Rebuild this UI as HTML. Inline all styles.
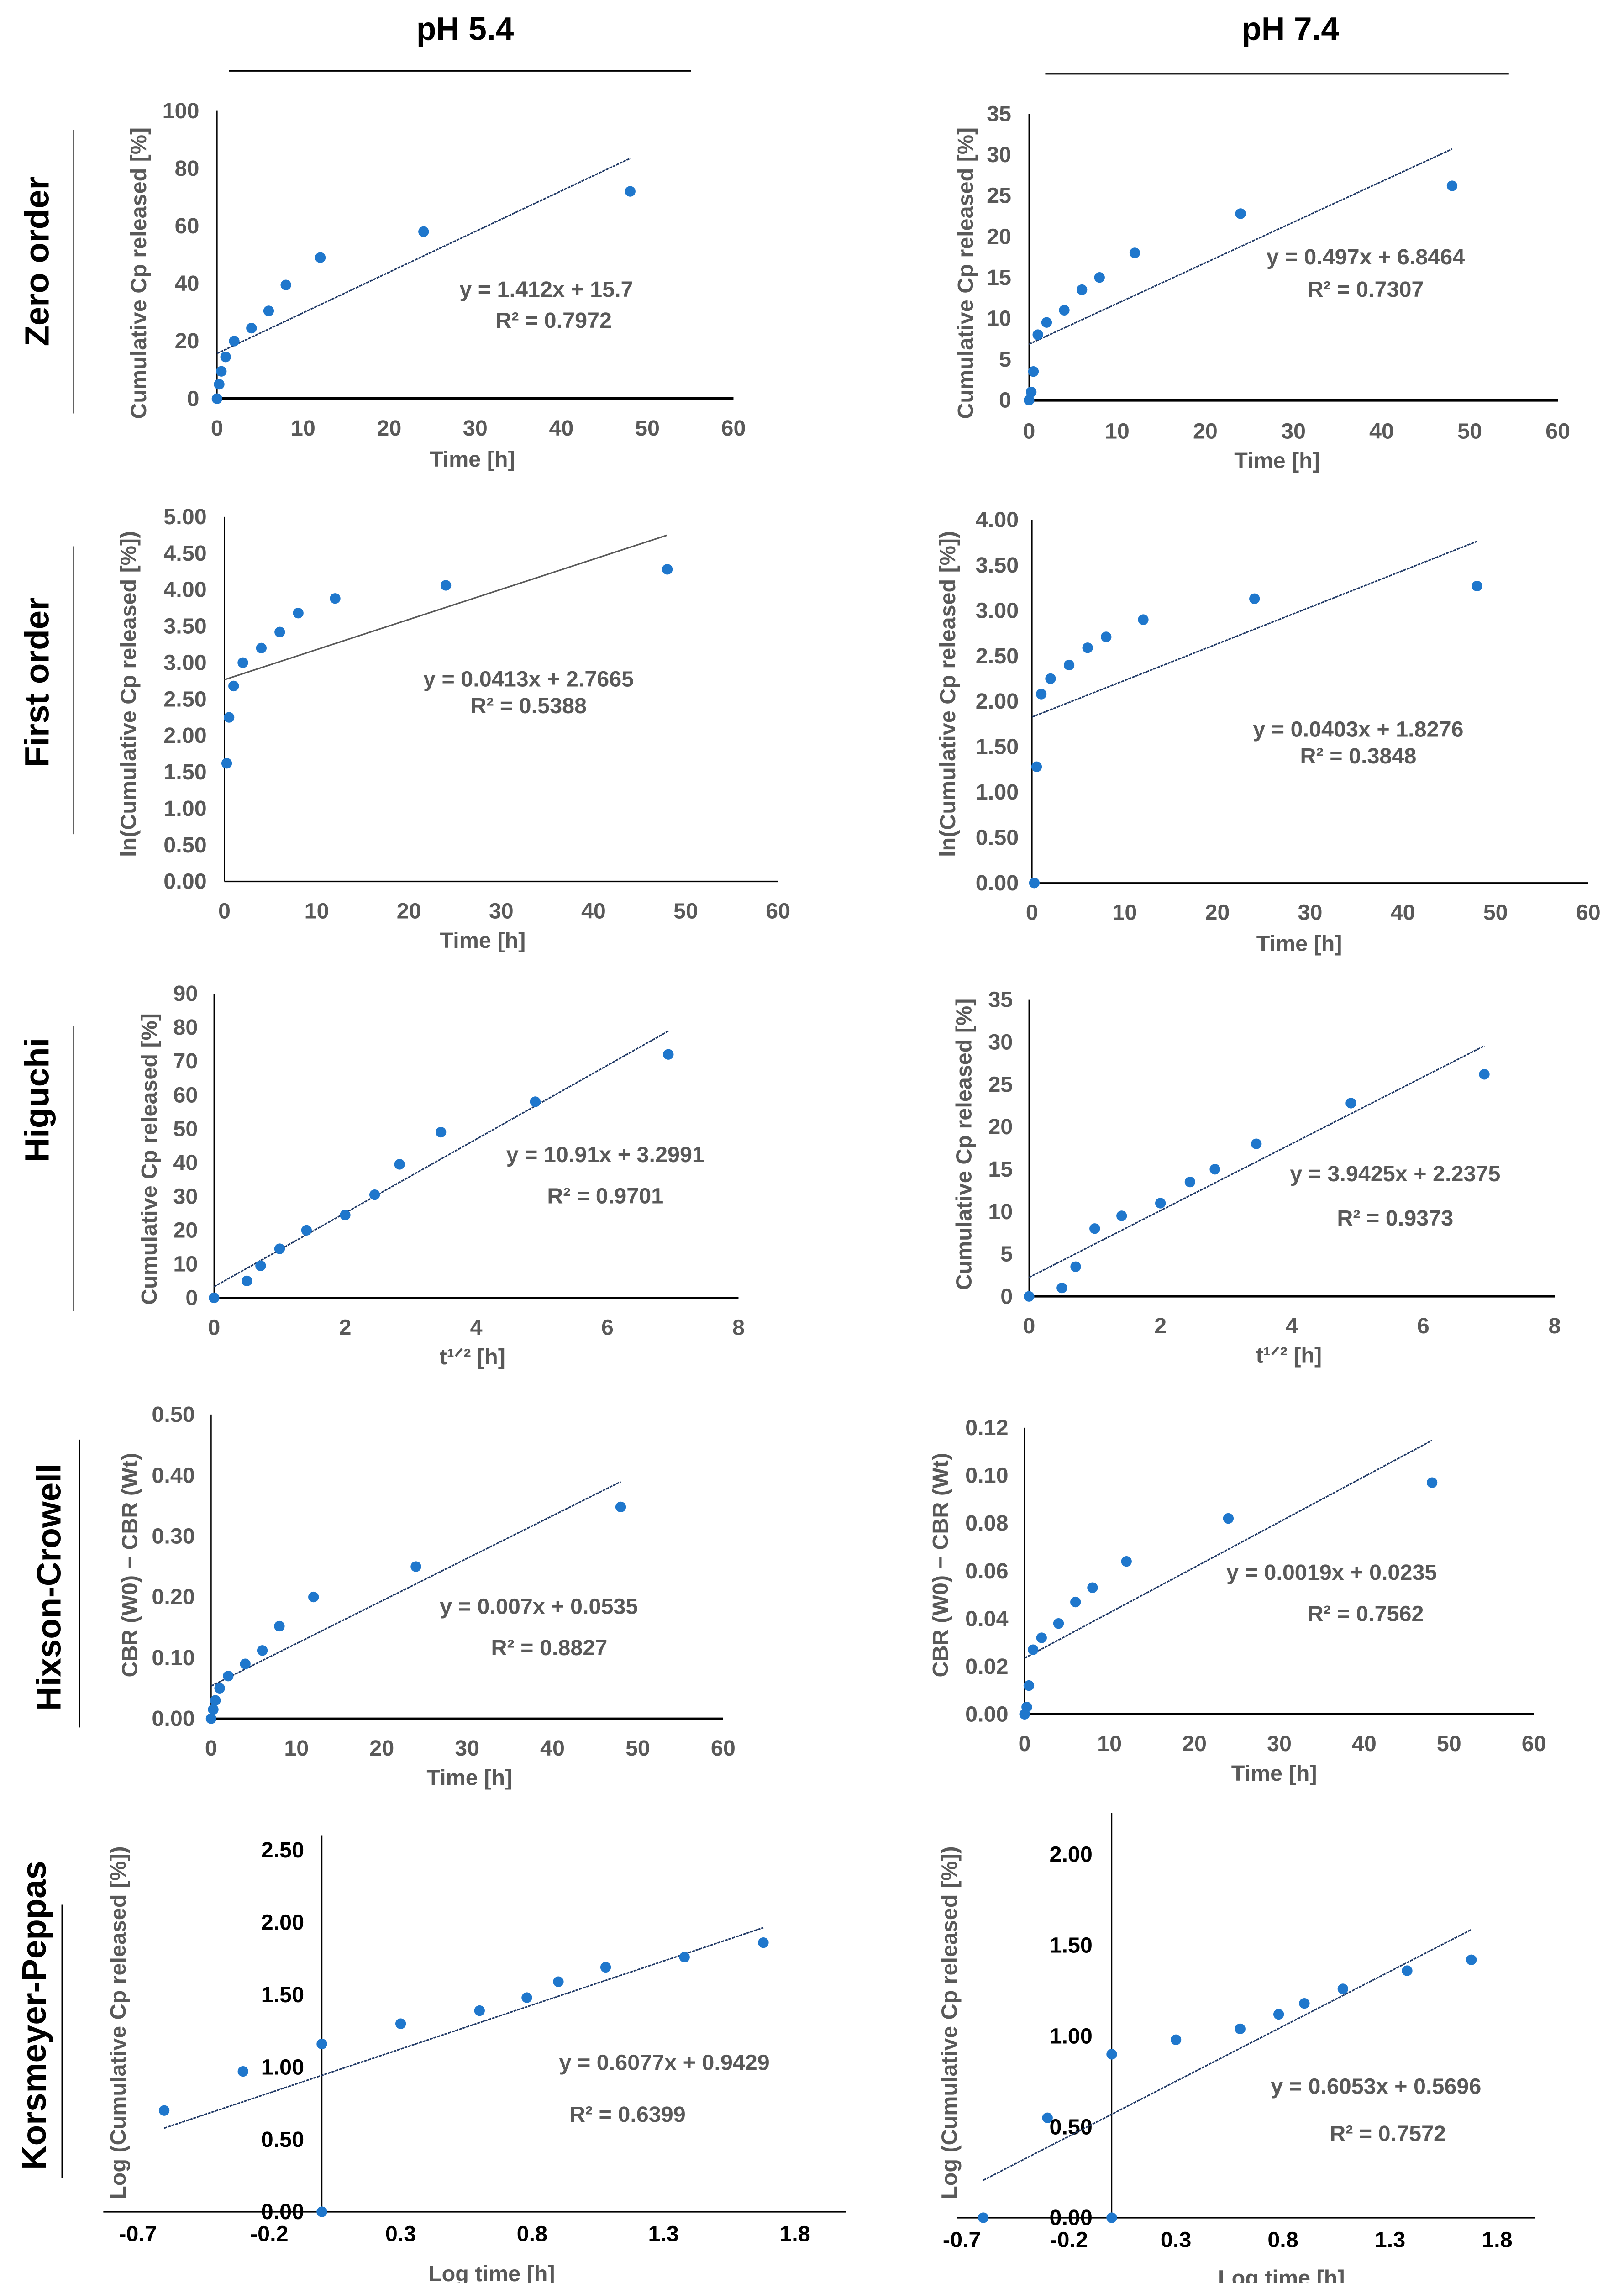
<!DOCTYPE html>
<html><head><meta charset="utf-8"><style>
html,body{margin:0;padding:0;background:#fff;overflow:hidden;width:3557px;height:5043px;position:relative}
svg{display:block;position:absolute;left:0;top:0}
text{font-family:"Liberation Sans Narrow","Liberation Sans",sans-serif;font-weight:bold}
.tick{fill:#595959;font-size:15px}
.ttl{fill:#595959;font-size:15px;font-family:"Liberation Sans",sans-serif}
.eq{fill:#595959;font-size:15px}
.row{fill:#000;font-size:23px;font-family:"Liberation Sans",sans-serif}
.hdr{fill:#000;font-size:22px;font-family:"Liberation Sans",sans-serif}
</style></head><body>
<svg id="fig" width="3557" height="5043" viewBox="0 0 1100 1559.5" overflow="hidden" xmlns="http://www.w3.org/2000/svg">
<g>
<text class="hdr" x="315" y="27" text-anchor="middle">pH 5.4</text>
<line x1="155" y1="48" x2="468" y2="48" stroke="#000" stroke-width="1"/>
<text class="hdr" x="874" y="27" text-anchor="middle">pH 7.4</text>
<line x1="708" y1="50" x2="1022" y2="50" stroke="#000" stroke-width="1"/>
</g>
<g>
<text class="row" transform="translate(33,177) rotate(-90)" text-anchor="middle">Zero order</text>
<line x1="50" y1="88" x2="50" y2="280" stroke="#000" stroke-width="0.8"/>
<text class="row" transform="translate(33,462) rotate(-90)" text-anchor="middle">First  order</text>
<line x1="50" y1="370" x2="50" y2="565" stroke="#000" stroke-width="0.8"/>
<text class="row" transform="translate(33,745) rotate(-90)" text-anchor="middle">Higuchi</text>
<line x1="50" y1="695" x2="50" y2="888" stroke="#000" stroke-width="0.8"/>
<text class="row" transform="translate(41,1075) rotate(-90)" text-anchor="middle">Hixson-Crowell</text>
<line x1="54" y1="975" x2="54" y2="1170" stroke="#000" stroke-width="0.8"/>
<text class="row" transform="translate(31,1365) rotate(-90)" text-anchor="middle">Korsmeyer-Peppas</text>
<line x1="42" y1="1290" x2="42" y2="1475" stroke="#000" stroke-width="0.8"/>
</g>
<g id="charts"></g>
</svg>
<script>
const times=[0,0.25,0.5,1,2,4,6,8,12,24,48];
const firstTimes=[0.25,0.5,1,2,4,6,8,12,24,48];
const sqrtTimes=[0,0.5,0.71,1,1.41,2,2.45,2.83,3.46,4.9,6.93];
const logTimes=[-0.6,-0.3,0,0,0.3,0.6,0.78,0.9,1.08,1.38,1.68];
const zero54=[0,5,9.5,14.5,20,24.5,30.5,39.5,49,58,72];
const zero74=[0,1,3.5,8,9.5,11,13.5,15,18,22.8,26.2];
const first54=[1.62,2.25,2.68,3.0,3.2,3.42,3.68,3.88,4.06,4.28];
const first74=[0,1.28,2.08,2.25,2.4,2.59,2.71,2.9,3.13,3.27];
const hig54=[0,5,9.5,14.5,20,24.5,30.5,39.5,49,58,72];
const hig74=[0,1,3.5,8,9.5,11,13.5,15,18,22.8,26.2];
const hix54=[0,0.015,0.03,0.05,0.07,0.09,0.112,0.152,0.2,0.25,0.348];
const hix74=[0,0.003,0.012,0.027,0.032,0.038,0.047,0.053,0.064,0.082,0.097];
const kp54=[0.7,0.97,1.16,0,1.3,1.39,1.48,1.59,1.69,1.76,1.86];
const kp74=[0,0.55,0.9,0,0.98,1.04,1.12,1.18,1.26,1.36,1.42];
const timeTicks=[0,10,20,30,40,50,60];
const sqrtTicks=[0,2,4,6,8];
const logTicks=[-0.7,-0.2,0.3,0.8,1.3,1.8];
const yTicksZero54=[0,20,40,60,80,100];
const yTicksZero74=[0,5,10,15,20,25,30,35];
const yTicksFirst54=[0,0.5,1,1.5,2,2.5,3,3.5,4,4.5,5];
const yTicksFirst74=[0,0.5,1,1.5,2,2.5,3,3.5,4];
const yTicksHig54=[0,10,20,30,40,50,60,70,80,90];
const yTicksHig74=[0,5,10,15,20,25,30,35];
const yTicksHix54=[0,0.1,0.2,0.3,0.4,0.5];
const yTicksHix74=[0,0.02,0.04,0.06,0.08,0.1,0.12];
const yTicksKp54=[0,0.5,1,1.5,2,2.5];
const yTicksKp74=[0,0.5,1,1.5,2];
const trendZero54=[1.412,15.7]; const trendZero74=[0.497,6.8464];
const trendFirst54=[0.0413,2.7665]; const trendFirst74=[0.0403,1.8276];
const trendHig54=[10.91,3.2991]; const trendHig74=[3.9425,2.2375];
const trendHix54=[0.007,0.0535]; const trendHix74=[0.0019,0.0235];
const trendKp54=[0.6077,0.9429]; const trendKp74=[0.6053,0.5696];

const charts=[
{n:'zero-54',xs:times,ys:zero54,tr:trendZero54,xt:timeTicks,yt:yTicksZero54,dec:0,xd:0,
 ax:147,ay:270,kx:5.83,ky:1.95,xmin:0,xmax:60,ymax:100,lx:[0,48],labY:295,ylx:135,
 xt2:'Time [h]',xtp:[320,316],yt2:'Cumulative Cp released [%]',ytp:[99,185],eq:['y = 1.412x + 15.7','R² = 0.7972'],eqp:[370,201,375,222],tc:'#1F3864',kp:false,xw:2},
{n:'zero-74',xs:times,ys:zero74,tr:trendZero74,xt:timeTicks,yt:yTicksZero74,dec:0,xd:0,
 ax:697,ay:271,kx:5.97,ky:5.54,xmin:0,xmax:60,ymax:35,lx:[0,48],labY:297,ylx:685,
 xt2:'Time [h]',xtp:[865,317],yt2:'Cumulative Cp released [%]',ytp:[659,185],eq:['y = 0.497x + 6.8464','R² = 0.7307'],eqp:[925,179,925,201],tc:'#1F3864',kp:false,xw:2},
{n:'first-54',xs:firstTimes,ys:first54,tr:trendFirst54,xt:timeTicks,yt:yTicksFirst54,dec:2,xd:0,
 ax:152,ay:597,kx:6.25,ky:49.4,xmin:0,xmax:60,ymax:5,lx:[0,48],labY:622,ylx:140,
 xt2:'Time [h]',xtp:[327,642],yt2:'ln(Cumulative Cp released [%])',ytp:[92,470],eq:['y = 0.0413x + 2.7665','R² = 0.5388'],eqp:[358,465,358,483],tc:'#595959',kp:false,xw:1},
{n:'first-74',xs:firstTimes,ys:first74,tr:trendFirst74,xt:timeTicks,yt:yTicksFirst74,dec:2,xd:0,
 ax:699,ay:598,kx:6.28,ky:61.5,xmin:0,xmax:60,ymax:4,lx:[0,48],labY:623,ylx:690,
 xt2:'Time [h]',xtp:[880,644],yt2:'ln(Cumulative Cp released [%])',ytp:[647,470],eq:['y = 0.0403x + 1.8276','R² = 0.3848'],eqp:[920,499,920,517],tc:'#1F3864',kp:false,xw:1},
{n:'higuchi-54',xs:sqrtTimes,ys:hig54,tr:trendHig54,xt:sqrtTicks,yt:yTicksHig54,dec:0,xd:0,
 ax:145,ay:879,kx:44.4,ky:2.29,xmin:0,xmax:8,ymax:90,lx:[0,6.93],labY:904,ylx:134,
 xt2:'t¹ᐟ² [h]',xtp:[320,924],yt2:'Cumulative Cp released [%]',ytp:[106,785],eq:['y = 10.91x + 3.2991','R² = 0.9701'],eqp:[410,787,410,815],tc:'#1F3864',kp:false,xw:1.5},
{n:'higuchi-74',xs:sqrtTimes,ys:hig74,tr:trendHig74,xt:sqrtTicks,yt:yTicksHig74,dec:0,xd:0,
 ax:697,ay:878,kx:44.5,ky:5.74,xmin:0,xmax:8,ymax:35,lx:[0,6.93],labY:903,ylx:686,
 xt2:'t¹ᐟ² [h]',xtp:[873,923],yt2:'Cumulative Cp released [%]',ytp:[658,775],eq:['y = 3.9425x + 2.2375','R² = 0.9373'],eqp:[945,800,945,830],tc:'#1F3864',kp:false,xw:1.5},
{n:'hixson-54',xs:times,ys:hix54,tr:trendHix54,xt:timeTicks,yt:yTicksHix54,dec:2,xd:0,
 ax:143,ay:1164,kx:5.78,ky:412,xmin:0,xmax:60,ymax:0.5,lx:[0,48],labY:1189,ylx:132,
 xt2:'Time [h]',xtp:[318,1209],yt2:'CBR (W0) − CBR (Wt)',ytp:[93,1060],eq:['y = 0.007x + 0.0535','R² = 0.8827'],eqp:[365,1093,372,1121],tc:'#1F3864',kp:false,xw:1.5},
{n:'hixson-74',xs:times,ys:hix74,tr:trendHix74,xt:timeTicks,yt:yTicksHix74,dec:2,xd:0,
 ax:694,ay:1161,kx:5.75,ky:1617,xmin:0,xmax:60,ymax:0.12,lx:[0,48],labY:1186,ylx:683,
 xt2:'Time [h]',xtp:[863,1206],yt2:'CBR (W0) − CBR (Wt)',ytp:[642,1060],eq:['y = 0.0019x + 0.0235','R² = 0.7562'],eqp:[902,1070,925,1098],tc:'#1F3864',kp:false,xw:1.5},
{n:'kp-54',xs:logTimes,ys:kp54,tr:trendKp54,xt:logTicks,yt:yTicksKp54,dec:2,xd:1,
 ax:218,ay:1498,kx:178,ky:98,xmin:-0.7,xmax:2,ymax:2.5,lx:[-0.6,1.68],labY:1518,ylx:206,
 axl:[70,573],ytop:1243,xt2:'Log time [h]',xtp:[333,1545],yt2:'Log (Cumulative Cp released [%])',ytp:[85,1370],eq:['y = 0.6077x + 0.9429','R² = 0.6399'],eqp:[450,1402,425,1437],tc:'#1F3864',kp:true,xw:1},
{n:'kp-74',xs:logTimes,ys:kp74,tr:trendKp74,xt:logTicks,yt:yTicksKp74,dec:2,xd:1,
 ax:753,ay:1502,kx:145,ky:123,xmin:-0.7,xmax:2,ymax:2,lx:[-0.6,1.68],labY:1522,ylx:740,
 axl:[648,1040],ytop:1228,xt2:'Log time [h]',xtp:[868,1548],yt2:'Log (Cumulative Cp released [%])',ytp:[648,1370],eq:['y = 0.6053x + 0.5696','R² = 0.7572'],eqp:[932,1418,940,1450],tc:'#1F3864',kp:true,xw:1}
];
const NS='http://www.w3.org/2000/svg';
const root=document.getElementById('charts');
function mk(tag,at,parent){const e=document.createElementNS(NS,tag);for(const k in at)e.setAttribute(k,at[k]);parent.appendChild(e);return e;}
charts.forEach(c=>{
 const sx=v=>c.ax+v*c.kx; const sy=v=>c.ay-v*c.ky;
 const g=mk('g',{},root);
 
 
 const x1=c.axl?c.axl[0]:sx(c.xmin), x2=c.axl?c.axl[1]:sx(c.xmax);
 const xa=mk('line',{x1:x1,y1:sy(0),x2:x2,y2:sy(0),stroke:'#000','stroke-width':c.xw},g);
 
 
 const ya=mk('line',{x1:sx(0),y1:c.ytop||sy(c.ymax),x2:sx(0),y2:sy(0),stroke:'#000','stroke-width':0.8},g);
 
 
 c.xt.forEach(v=>{const t=mk('text',{x:sx(v),y:c.labY,'text-anchor':'middle',class:'tick',style:c.kp?'fill:#000':''},g);t.textContent=v.toFixed(c.xd);
  
  });
 c.yt.forEach(v=>{const t=mk('text',{x:c.ylx,y:sy(v)+5,'text-anchor':'end',class:'tick',style:c.kp?'fill:#000':''},g);t.textContent=v.toFixed(c.dec);
  
  });
 const tl=mk('line',{x1:sx(c.lx[0]),y1:sy(c.tr[0]*c.lx[0]+c.tr[1]),x2:sx(c.lx[1]),y2:sy(c.tr[0]*c.lx[1]+c.tr[1]),stroke:c.tc,'stroke-width':1,'stroke-dasharray':c.tc==='#595959'?'':'2 0.6'},g);
 
 
 c.xs.forEach((v,i)=>{const p=mk('circle',{cx:sx(v),cy:sy(c.ys[i]),r:3.6,fill:'#1F77CC'},g);
  
  });
 const xt=mk('text',{x:c.xtp[0],y:c.xtp[1],'text-anchor':'middle',class:'ttl'},g);xt.textContent=c.xt2;
 
 
 const yt=mk('text',{transform:`translate(${c.ytp[0]},${c.ytp[1]}) rotate(-90)`,'text-anchor':'middle',class:'ttl'},g);yt.textContent=c.yt2;
 
 
 const e1=mk('text',{x:c.eqp[0],y:c.eqp[1],'text-anchor':'middle',class:'eq'},g);e1.textContent=c.eq[0];
 
 
 const e2=mk('text',{x:c.eqp[2],y:c.eqp[3],'text-anchor':'middle',class:'eq'},g);e2.textContent=c.eq[1];
 
 
});
</script>
</body></html>
